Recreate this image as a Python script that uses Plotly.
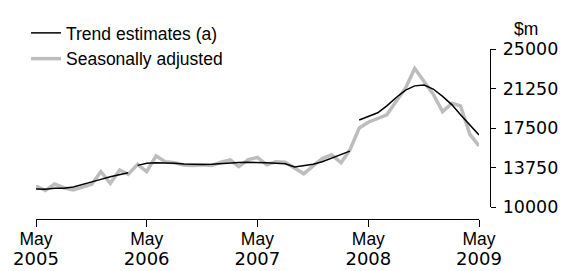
import pandas as pd
import plotly.graph_objects as go

# ---- data ----
months = pd.date_range("2005-05-01", "2009-05-01", freq="MS")

trend = [
    11710, 11690, 11770, 11790, 11900, 12120, 12370, 12620, 12880, 13070, 13260,
    13950, 14150, 14210, 14210, 14150, 14080, 14040, 14030, 14050, 14120, 14180,
    14220, 14240, 14240, 14200, 14150, 14100, 13800, 13940, 14060, 14300, 14650,
    14950, 15300,
    18260, 18600, 18950, 19600, 20400, 21100, 21500, 21580, 21200, 20500, 19700,
    18750, 17800, 16840,
]
trend_breaks = [11, 35]  # indices where a new trend segment starts

seas_adj = [
    11990, 11560, 12180, 11830, 11620, 11870, 12150, 13350, 12250, 13510, 13100,
    14050, 13350, 14840, 14300, 14200, 13990, 13930, 14000, 13930, 14250, 14460,
    13830, 14500, 14700, 14000, 14300, 14250, 13700, 13150, 13900, 14600, 14950,
    14200, 15400, 17500, 18050, 18450, 18750, 20050, 21300, 23150, 21950, 20700,
    19050, 19850, 19600, 16900, 15800,
]

tick_dates = ["2005-05-01", "2006-05-01", "2007-05-01", "2008-05-01", "2009-05-01"]
tick_months = ["May", "May", "May", "May", "May"]
tick_years = ["2005", "2006", "2007", "2008", "2009"]
y_ticks = [10000, 13750, 17500, 21250, 25000]

# build trend with line breaks
tx, ty = [], []
for i, (d, v) in enumerate(zip(months, trend)):
    if i in trend_breaks:
        tx.append(d)
        ty.append(None)
    tx.append(d)
    ty.append(v)

fig = go.Figure()
fig.add_trace(go.Scatter(
    x=months, y=seas_adj, mode="lines", name="Seasonally adjusted",
    line=dict(color="#bdbdbd", width=3.5), legendrank=2,
))
fig.add_trace(go.Scatter(
    x=tx, y=ty, mode="lines", name="Trend estimates (a)",
    line=dict(color="#000000", width=1.5), connectgaps=False, legendrank=1,
))

ticktext = [
    f"<span style='font-size:17.5px'>{m}</span><br>"
    f"<span style='font-family:DejaVu Sans;font-size:18px'>{y}</span>"
    for m, y in zip(tick_months, tick_years)
]

fig.update_layout(
    width=564, height=271,
    margin=dict(l=36, r=74, t=49, b=52, autoexpand=False),
    paper_bgcolor="white", plot_bgcolor="white",
    font=dict(family="Liberation Sans, Arial", size=17.5, color="#000"),
    showlegend=True,
    legend=dict(
        xref="container", yref="container",
        x=26 / 564, y=1 - 15 / 271, xanchor="left", yanchor="top",
        font=dict(family="Liberation Sans, Arial", size=17.5, color="#000"),
        bgcolor="rgba(0,0,0,0)", tracegroupgap=0,
    ),
    xaxis=dict(
        domain=[0, 443 / 454],
        range=["2005-05-01", "2009-05-01"],
        anchor="free", position=0, automargin=False,
        showgrid=False, zeroline=False,
        showline=True, linecolor="#000", linewidth=1.3,
        ticks="outside", ticklen=7, tickwidth=1.3, tickcolor="#000",
        tickvals=tick_dates, ticktext=ticktext,
        tickfont=dict(family="Liberation Sans, Arial", size=15, color="#000"),
    ),
    yaxis=dict(
        domain=[12 / 170, 1],
        range=[10000, 25000],
        side="right", anchor="free", position=1, automargin=False,
        showgrid=False, zeroline=False,
        showline=True, linecolor="#000", linewidth=1.3,
        ticks="outside", ticklen=5, tickwidth=1.3, tickcolor="#000",
        tickvals=y_ticks, ticktext=[str(v) for v in y_ticks],
        tickfont=dict(family="DejaVu Sans", size=17.5, color="#000"),
        ticklabelstandoff=3,
    ),
    annotations=[dict(
        text="$m", xref="paper", yref="paper", x=1.08, y=1.0,
        xanchor="center", yanchor="bottom", showarrow=False, yshift=8,
        font=dict(family="Liberation Sans, Arial", size=17.5, color="#000"),
    )],
)

fig.write_html(
    "out.html",
    config={"displayModeBar": False},
    post_script="document.body.style.margin='0';document.body.style.overflow='hidden';",
)
